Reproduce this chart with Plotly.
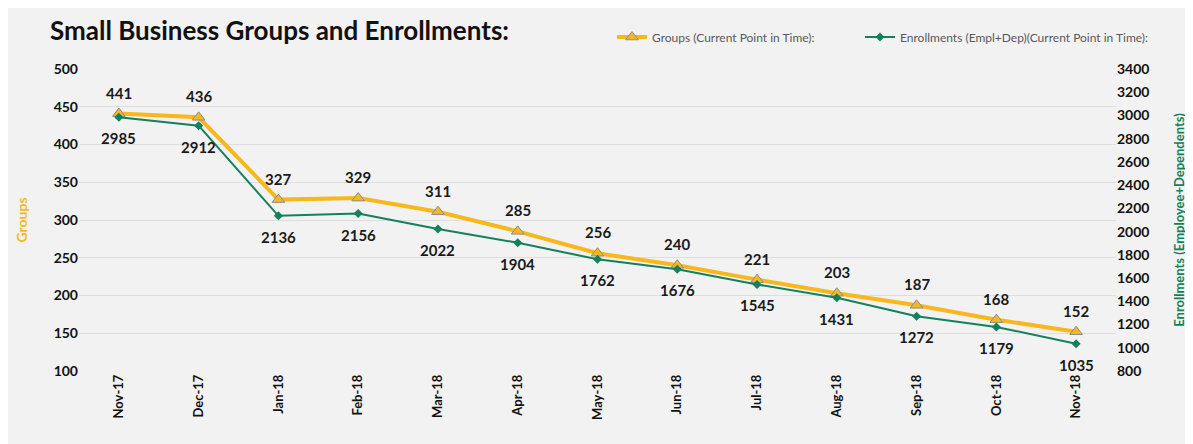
import plotly.graph_objects as go

months = ["Nov-17", "Dec-17", "Jan-18", "Feb-18", "Mar-18", "Apr-18", "May-18",
          "Jun-18", "Jul-18", "Aug-18", "Sep-18", "Oct-18", "Nov-18"]
groups = [441, 436, 327, 329, 311, 285, 256, 240, 221, 203, 187, 168, 152]
enrollments = [2985, 2912, 2136, 2156, 2022, 1904, 1762, 1676, 1545, 1431, 1272, 1179, 1035]

FONT = "Lato"
GOLD = "#F7B81E"
GREEN = "#13815A"
W, H = 1185, 436  # page body has an 8px margin

fig = go.Figure()
fig.add_trace(go.Scatter(
    x=months, y=groups, name="Groups (Current Point in Time):",
    mode="lines+markers",
    line=dict(color=GOLD, width=4),
    marker=dict(symbol="triangle-up", size=11, color=GOLD,
                line=dict(color="#8c8c8c", width=1)),
    yaxis="y", legend="legend"))
fig.add_trace(go.Scatter(
    x=months, y=enrollments, name="Enrollments (Empl+Dep)(Current Point in Time):",
    mode="lines+markers",
    line=dict(color=GREEN, width=2),
    marker=dict(symbol="diamond", size=7, color=GREEN),
    yaxis="y2", legend="legend2"))

lbl_font = dict(family=FONT, size=15, color="#1a1a1a", weight="bold")
annotations = (
    [dict(x=m, y=v, xref="x", yref="y", text=str(v), showarrow=False, yshift=21,
          font=lbl_font) for m, v in zip(months, groups)]
    + [dict(x=m, y=v, xref="x", yref="y2", text=str(v), showarrow=False, yshift=-21,
            font=lbl_font) for m, v in zip(months, enrollments)]
)

leg_common = dict(orientation="h", xref="container", yref="container", yanchor="middle",
                  xanchor="left", y=1 - 29/H, bgcolor="rgba(0,0,0,0)",
                  font=dict(family=FONT, size=12, color="#595959"), itemwidth=30)

fig.update_layout(
    width=W, height=H,
    paper_bgcolor="#F2F2F2", plot_bgcolor="#F2F2F2",
    margin=dict(l=71, r=77, t=61, b=73, autoexpand=False),
    font=dict(family=FONT, color="#1a1a1a"),
    title=dict(text="Small Business Groups and Enrollments:", x=42/W, xanchor="left",
               y=1 - 23/H, yanchor="middle",
               font=dict(family=FONT, size=26, color="#111111", weight="bold")),
    showlegend=True,
    legend=dict(x=604/W, **leg_common),
    legend2=dict(x=852/W, **leg_common),
    annotations=annotations,
    xaxis=dict(type="category", range=[-0.5, 12.5], tickangle=-90,
               tickfont=dict(family=FONT, size=13, color="#111111", weight="bold"),
               showgrid=False, showline=False, ticks="", zeroline=False),
    yaxis=dict(range=[100, 500], dtick=50, tick0=100,
               tickfont=dict(family=FONT, size=14, color="#111111", weight="bold"),
               gridcolor="#DEDEDE", gridwidth=1, zeroline=False, showline=False,
               title=dict(text="Groups", font=dict(family=FONT, size=14, color=GOLD, weight="bold"),
                          standoff=22)),
    yaxis2=dict(range=[800, 3400], dtick=200, tick0=800, overlaying="y", side="right",
                tickfont=dict(family=FONT, size=14, color="#111111", weight="bold"),
                showgrid=False, zeroline=False, showline=False,
                title=dict(text="Enrollments (Employee+Dependents)",
                           font=dict(family=FONT, size=13, color=GREEN, weight="bold"),
                           standoff=26)),
)

fig.write_html("out.html")
